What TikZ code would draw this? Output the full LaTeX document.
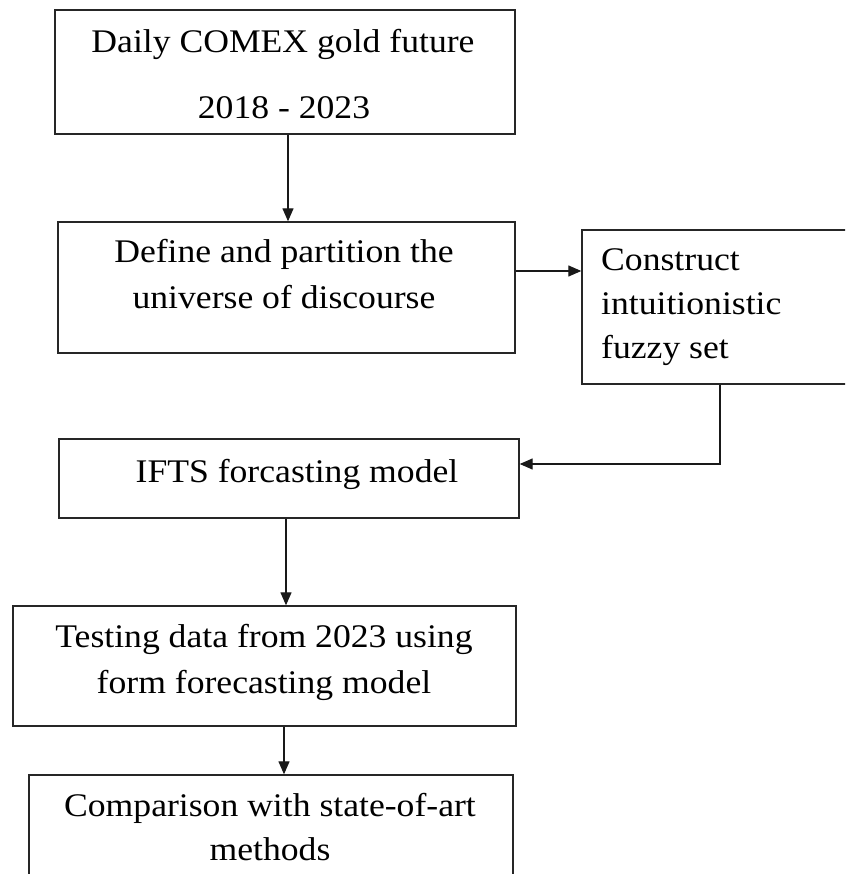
\documentclass[tikz,border=0pt]{standalone}
\usepackage{fontspec}
\setmainfont{Liberation Serif}[FakeStretch=1.08]
\usetikzlibrary{arrows.meta}
\tikzset{
  box/.style={draw=black!85, line width=1.4pt, inner sep=0pt, rectangle},
  txt/.style={inner sep=0pt, anchor=base, font=\fontsize{33}{40}\selectfont},
  txtl/.style={txt, anchor=base west},
  arr/.style={draw=black!90, line width=1.3pt, -{Triangle[length=13pt,width=11pt]}},
  ln/.style={draw=black!90, line width=1.3pt}
}
\begin{document}
\begin{tikzpicture}[x=1pt,y=-1pt]
\useasboundingbox (0,0) rectangle (845,874);
\clip (0,0) rectangle (845,874);
\fill[white] (0,0) rectangle (845,874);
% boxes
\node[box, minimum width=460pt, minimum height=124pt] (b1) at (285,72) {};
\node[box, minimum width=457pt, minimum height=131pt] (b2) at (286.5,287.5) {};
\node[box, minimum width=298pt, minimum height=154pt] (b3) at (731,307) {};
\node[box, minimum width=460pt, minimum height=79pt] (b4) at (289,478.5) {};
\node[box, minimum width=503pt, minimum height=120pt] (b5) at (264.5,666) {};
\node[box, minimum width=484pt, minimum height=130pt] (b6) at (271,840) {};
% texts
\node[txt] (t1a) at (283,53) {Daily COMEX gold future};
\node[txt] (t1b) at (284,119) {2018 - 2023};
\node[txt] (t2a) at (284,263) {Define and partition the};
\node[txt] (t2b) at (284,308) {universe of discourse};
\node[txtl] (t3a) at (601,271) {Construct};
\node[txtl] (t3b) at (601,314.5) {intuitionistic};
\node[txtl] (t3c) at (601,358) {fuzzy set};
\node[txt] (t4) at (297,482) {IFTS forcasting model};
\node[txt] (t5a) at (264,647) {Testing data from 2023 using};
\node[txt] (t5b) at (264,693) {form forecasting model};
\node[txt] (t6a) at (270,816.5) {Comparison with state-of-art};
\node[txt] (t6b) at (270,860.5) {methods};
% connectors
\coordinate (c12) at (288,0);
\draw[arr] (c12 |- b1.south) -- (c12 |- b2.north);
\coordinate (c23) at (0,271);
\draw[arr] (c23 -| b2.east) -- (c23 -| b3.west);
\coordinate (k) at (720,464);
\draw[arr] (k |- b3.south) -- (k) -- (k -| b4.east);
\coordinate (c45) at (286,0);
\draw[arr] (c45 |- b4.south) -- (c45 |- b5.north);
\coordinate (c56) at (284,0);
\draw[arr] (c56 |- b5.south) -- (c56 |- b6.north);
\end{tikzpicture}
\end{document}
